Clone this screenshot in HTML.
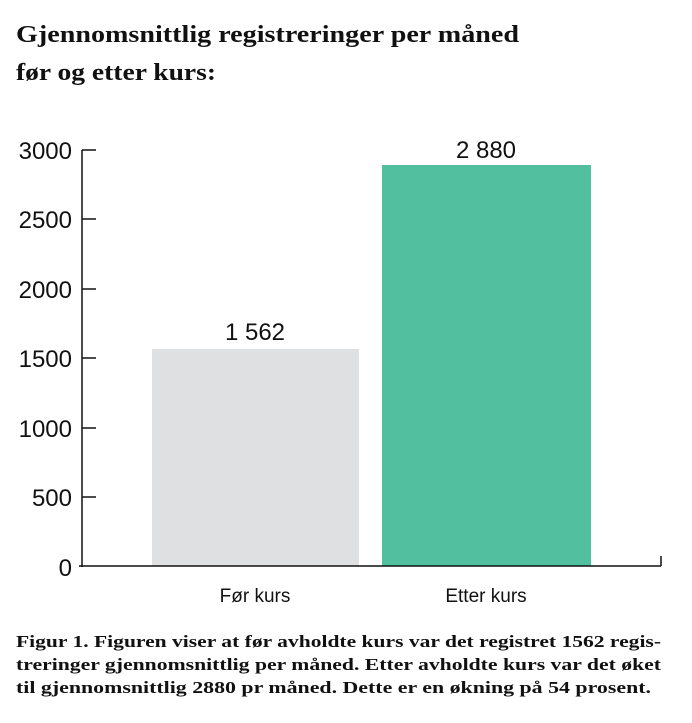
<!DOCTYPE html>
<html><head><meta charset="utf-8"><style>
body{margin:0;background:#fff;width:692px;height:718px;overflow:hidden;font-family:"Liberation Sans",sans-serif;}
</style></head><body>
<svg width="692" height="718" xmlns="http://www.w3.org/2000/svg">
<text x="16" y="42" font-family="Liberation Serif, serif" font-weight="bold" font-size="24" fill="#111" textLength="503" lengthAdjust="spacingAndGlyphs">Gjennomsnittlig registreringer per måned</text>
<text x="16" y="80" font-family="Liberation Serif, serif" font-weight="bold" font-size="24" fill="#111" textLength="200" lengthAdjust="spacingAndGlyphs">før og etter kurs:</text>
<g font-size="24" fill="#111" text-anchor="end">
<text x="72" y="159">3000</text>
<text x="72" y="228">2500</text>
<text x="72" y="298">2000</text>
<text x="72" y="367">1500</text>
<text x="72" y="437">1000</text>
<text x="72" y="506">500</text>
<text x="72" y="576">0</text>
</g>
<rect x="152" y="349" width="207" height="217" fill="#dfe0e2"/>
<rect x="382" y="165" width="209" height="401" fill="#52bf9e"/>
<g stroke="#111" stroke-width="1.5" fill="none">
<line x1="82" y1="150" x2="82" y2="567"/>
<line x1="82" y1="150" x2="96" y2="150"/>
<line x1="82" y1="219" x2="96" y2="219"/>
<line x1="82" y1="289" x2="96" y2="289"/>
<line x1="82" y1="358" x2="96" y2="358"/>
<line x1="82" y1="428" x2="96" y2="428"/>
<line x1="82" y1="497" x2="96" y2="497"/>
<line x1="79" y1="566" x2="661" y2="566"/>
<line x1="661" y1="566" x2="661" y2="556"/>
</g>
<text x="255" y="340" font-size="24" text-anchor="middle" fill="#111">1 562</text>
<text x="486" y="158" font-size="24" text-anchor="middle" fill="#111">2 880</text>
<text x="255" y="602" font-size="19" text-anchor="middle" fill="#111">Før kurs</text>
<text x="486" y="602" font-size="19" text-anchor="middle" fill="#111">Etter kurs</text>
<g font-family="Liberation Serif, serif" font-weight="bold" font-size="17" fill="#111">
<text x="16" y="647" textLength="645" lengthAdjust="spacingAndGlyphs">Figur 1. Figuren viser at før avholdte kurs var det registret 1562 regis-</text>
<text x="16" y="670" textLength="645" lengthAdjust="spacingAndGlyphs">treringer gjennomsnittlig per måned. Etter avholdte kurs var det øket</text>
<text x="16" y="693" textLength="635" lengthAdjust="spacingAndGlyphs">til gjennomsnittlig 2880 pr måned. Dette er en økning på 54 prosent.</text>
</g>
</svg>
</body></html>
